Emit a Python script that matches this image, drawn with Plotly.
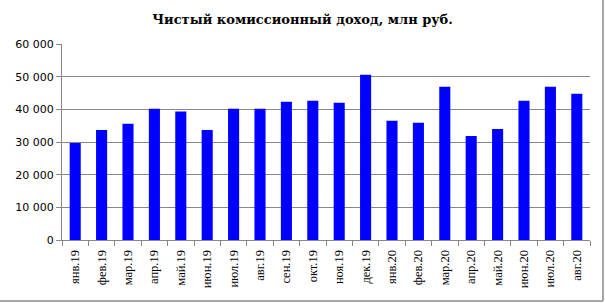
import plotly.graph_objects as go

months = ["янв.19", "фев.19", "мар.19", "апр.19", "май.19", "июн.19", "июл.19", "авг.19",
          "сен.19", "окт.19", "ноя.19", "дек.19", "янв.20", "фев.20", "мар.20", "апр.20",
          "май.20", "июн.20", "июл.20", "авг.20"]
income = [29700, 33700, 35600, 40200, 39300, 33700, 40200, 40200, 42300, 42600,
          42000, 50600, 36500, 35900, 46900, 31800, 34000, 42600, 46900, 44800]
ytick_vals = [0, 10000, 20000, 30000, 40000, 50000, 60000]
ytick_text = ["0", "10 000", "20 000", "30 000", "40 000", "50 000", "60 000"]

W, H = 605, 303
L, R, T, B = 62, 590, 44, 240

fig = go.Figure(go.Bar(x=months, y=income, marker=dict(color="#0000FF", line=dict(width=0))))

def px_x(p):
    return (p - L) / (R - L)

def px_y(p):
    return (B - p) / (B - T)

fig.update_layout(
    width=W, height=H,
    margin=dict(l=L, r=W - R, t=T, b=H - B),
    paper_bgcolor="white", plot_bgcolor="white",
    bargap=0.58,
    showlegend=False,
    title=dict(text="<b>Чистый комиссионный доход, млн руб.</b>",
               x=0.5, xanchor="center", y=1 - 19 / H, yanchor="middle",
               font=dict(family="DejaVu Serif", size=13, color="black")),
    xaxis=dict(type="category", tickangle=-90, tickson="boundaries",
               ticks="outside", ticklen=5, tickcolor="#888888",
               showline=True, linecolor="#888888", linewidth=1,
               showgrid=False, ticklabelstandoff=4,
               tickfont=dict(family="Liberation Serif", size=12.5, color="black")),
    yaxis=dict(range=[0, 60000], tickvals=ytick_vals, ticktext=ytick_text,
               ticks="outside", ticklen=5, tickcolor="#888888",
               showline=True, linecolor="#888888", linewidth=1,
               showgrid=True, gridcolor="#888888", gridwidth=1,
               zeroline=False,
               tickfont=dict(family="DejaVu Sans", size=11, color="black")),
    shapes=[
        dict(type="line", xref="paper", yref="paper",
             x0=px_x(603), x1=px_x(603), y0=px_y(301), y1=px_y(0),
             line=dict(color="#888888", width=1.5)),
        dict(type="line", xref="paper", yref="paper",
             x0=px_x(0), x1=px_x(603), y0=px_y(301), y1=px_y(301),
             line=dict(color="#888888", width=1.5)),
    ],
)

fig.write_html("out.html")
